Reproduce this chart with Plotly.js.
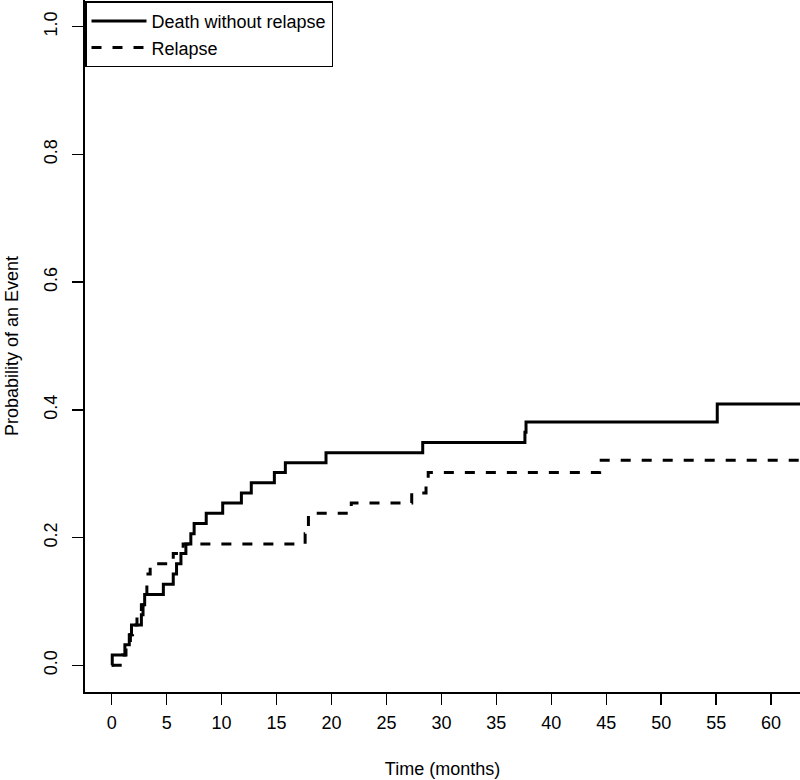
<!DOCTYPE html>
<html>
<head>
<meta charset="utf-8">
<script src="https://cdn.plot.ly/plotly-3.0.1.min.js"></script>
<style>html,body{margin:0;padding:0;background:#fff;}#chart{width:800px;height:780px;}</style>
</head>
<body>
<div id="chart"></div>
<script>
// Cumulative incidence: death without relapse (solid)
var deathTime = [0, 0.05, 1.2, 1.6, 1.8, 2.7, 2.85, 3.0, 4.7, 5.6, 5.9, 6.3, 6.75, 7.2, 7.5, 8.6, 10.1, 11.8, 12.7, 14.8, 15.8, 19.5, 28.3, 37.6, 37.7, 55.1, 62.7];
var deathProb = [0, 0.016, 0.032, 0.048, 0.063, 0.079, 0.095, 0.111, 0.127, 0.143, 0.159, 0.175, 0.190, 0.206, 0.222, 0.238, 0.254, 0.270, 0.286, 0.302, 0.317, 0.333, 0.349, 0.365, 0.381, 0.409, 0.409];

// Cumulative incidence: relapse (dashed)
var relapseTime = [0, 1.0, 1.3, 1.7, 1.9, 2.3, 2.7, 2.9, 3.2, 3.3, 3.5, 5.6, 6.5, 17.6, 17.9, 21.8, 27.3, 28.6, 28.8, 44.4, 62.7];
var relapseProb = [0, 0.016, 0.032, 0.048, 0.063, 0.079, 0.095, 0.111, 0.127, 0.143, 0.159, 0.175, 0.190, 0.206, 0.238, 0.254, 0.270, 0.286, 0.302, 0.321, 0.321];

var seriesNames = ["Death without relapse", "Relapse"];
var xTicks = [0, 5, 10, 15, 20, 25, 30, 35, 40, 45, 50, 55, 60];
var yTicks = [0, 0.2, 0.4, 0.6, 0.8, 1.0];
var yTickText = ["0.0", "0.2", "0.4", "0.6", "0.8", "1.0"];

var FONT = "Liberation Sans, Arial, Helvetica, sans-serif";
var FS = 18;

var traces = [
  {x: deathTime, y: deathProb, name: seriesNames[0], type: "scatter", mode: "lines",
   line: {shape: "hv", color: "#000", width: 3}},
  {x: relapseTime, y: relapseProb, name: seriesNames[1], type: "scatter", mode: "lines",
   line: {shape: "hv", color: "#000", width: 3, dash: "10px,11px"}}
];

var layout = {
  width: 800, height: 780,
  margin: {l: 85, r: 0, t: 0, b: 88, pad: 0},
  paper_bgcolor: "#fff", plot_bgcolor: "#fff",
  font: {family: FONT, size: FS, color: "#000"},
  showlegend: true,
  legend: {x: 0, y: 0.998, xanchor: "left", yanchor: "top", bgcolor: "#fff",
           bordercolor: "#000", borderwidth: 1.5, font: {family: FONT, size: FS, color: "#000"},
           itemwidth: 55},
  xaxis: {
    range: [-2.43, 62.63], tickvals: xTicks, ticktext: xTicks.map(String),
    showline: true, linecolor: "#000", linewidth: 1.6, mirror: false,
    ticks: "outside", ticklen: 11, tickwidth: 1.5, tickcolor: "#000",
    showgrid: false, zeroline: false, ticklabelstandoff: 3,
    tickfont: {family: FONT, size: FS, color: "#000"},
    title: {text: "Time (months)", font: {family: FONT, size: FS, color: "#000"}, standoff: 30},
    automargin: false
  },
  yaxis: {
    range: [-0.0418, 1.0418], tickvals: yTicks, ticktext: yTickText,
    showline: true, linecolor: "#000", linewidth: 1.6, mirror: false,
    ticks: "outside", ticklen: 11, tickwidth: 1.5, tickcolor: "#000",
    showgrid: false, zeroline: false, tickangle: -90, ticklabelstandoff: 8,
    tickfont: {family: FONT, size: FS, color: "#000"},
    title: {text: "Probability of an Event", font: {family: FONT, size: FS, color: "#000"}, standoff: 18},
    automargin: false
  }
};

Plotly.newPlot("chart", traces, layout, {displayModeBar: false, staticPlot: true});
</script>
</body>
</html>
